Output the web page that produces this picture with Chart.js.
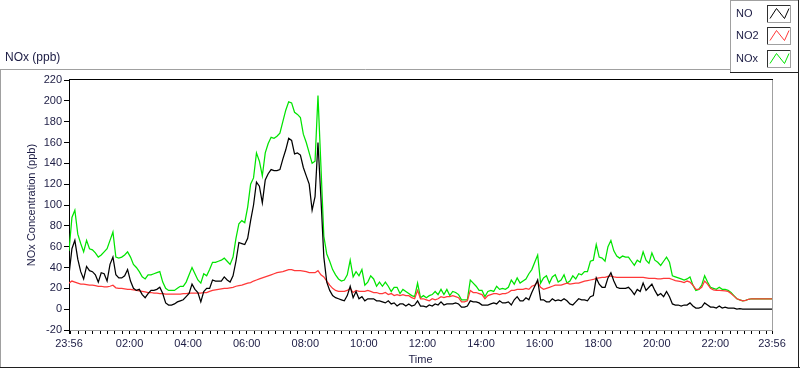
<!DOCTYPE html>
<html lang="en">
<head>
<meta charset="UTF-8">
<title>NOx (ppb)</title>
<script src="https://cdn.jsdelivr.net/npm/chart.js"></script>
<style>
    body { margin: 0; background: #fff; }
    canvas { display: block; }
</style>
</head>
<body>
<canvas id="noxChart" width="800" height="369"></canvas>
<script>
// one reading every 6 minutes, from 23:56 to 23:56 next day
const stepMin = 6;
const dayMin = 1440;
const edgeLabel = '23:56';
const hourLabels = ['02:00', '04:00', '06:00', '08:00', '10:00', '12:00', '14:00', '16:00', '18:00', '20:00', '22:00'];

const no = [
    33, 58, 66, 48, 36, 29, 41, 37, 36, 33,
    26, 35, 34, 27, 43, 50, 33, 30, 30, 32,
    38, 27, 20, 18, 19, 14, 11, 15, 18, 18,
    19, 21, 15, 6, 4, 4, 5, 7, 8, 9,
    12, 15, 24, 19, 16, 7, 17, 20, 20, 28,
    27, 27, 27, 31, 28, 26, 32, 46, 64, 63,
    62, 68, 85, 100, 122, 118, 102, 124, 130, 134,
    133, 133, 134, 144, 153, 164, 162, 149, 150, 148,
    136, 128, 120, 95, 108, 160, 107, 50, 26, 18,
    13, 11, 10, 9, 8, 13, 22, 11, 17, 10,
    12, 8, 10, 10, 10, 8, 8, 7, 6, 8,
    5, 6, 3, 5, 5, 3, 5, 3, 4, 8,
    3, 3, 2, 4, 3, 5, 4, 7, 4, 5,
    5, 5, 6, 5, 2, 2, 3, 8, 7, 7,
    6, 4, 4, 4, 5, 6, 5, 8, 6, 6,
    7, 4, 9, 12, 8, 8, 11, 9, 16, 22,
    28, 9, 9, 7, 7, 10, 8, 9, 8, 10,
    8, 5, 4, 7, 10, 9, 9, 8, 12, 13,
    30, 24, 21, 21, 30, 35, 27, 21, 20, 20,
    20, 21, 18, 14, 19, 17, 25, 18, 21, 24,
    18, 13, 15, 12, 17, 12, 5, 4, 4, 3,
    4, 4, 6, 3, 1, 1, 2, 6, 4, 2,
    2, 1, 3, 1, 2, 1, 1, 1, 0, 0.5,
    0, 0, 0, 0, 0, 0, 0, 0, 0, 0, 0
];

const no2 = [
    25, 27, 26, 25, 24, 24, 23.5, 23, 23, 22.5,
    22, 22, 21.5, 21.5, 22, 23, 20.5, 20, 20, 19.5,
    19, 19, 18.5, 18, 17.5, 17, 16.5, 16, 16, 15.5,
    15.5, 15, 15, 14.5, 14.5, 14.5, 14.5, 14.5, 14.5, 15,
    15, 15.5, 15.5, 15.5, 15.5, 15.5, 16, 16, 17, 18,
    18.5, 19, 19.5, 20, 20, 20.5, 21, 22, 22.5, 23,
    24, 25, 25.5, 27, 28, 29, 30, 31, 32, 33,
    34, 35, 35.5, 36, 37, 38, 38, 37, 37, 37,
    36.5, 36, 35, 35, 35, 37, 33, 31, 27, 23,
    20, 18, 17, 17, 17, 18, 20, 16, 18, 17,
    17, 17, 18, 17, 16, 16, 15, 15, 16, 14,
    15, 13, 14, 13, 14, 13, 13, 11, 10, 18,
    10, 10, 9, 8, 10, 9, 10, 12, 11, 12,
    12, 13, 12, 11, 7, 7, 8, 18, 16, 16,
    15, 14, 10, 13, 14, 15, 15, 14, 15, 15,
    16, 18, 18, 19, 19, 19, 20, 19, 22, 23,
    26, 21, 19, 20, 21, 22, 23, 23, 23, 24,
    25, 24, 24.5, 25, 25, 26, 27, 27.5, 28, 28.5,
    29.5, 30, 30.5, 30.5, 31.5, 32, 31, 30.5, 30.5, 30.5,
    30.5, 30.5, 30.5, 30.5, 30.5, 30.5, 30.5, 30, 29.5, 29.5,
    29.5, 29, 29, 29.5, 29.5, 29.5, 28.5, 27.5, 27, 26.5,
    25.5, 27, 26, 23, 19, 19, 21, 27, 24, 20,
    18.5, 18, 18, 17.8, 17.5, 17, 15, 12.5, 10, 9,
    8, 8.5, 9.5, 10, 10, 10, 10, 10, 10, 10, 10
];

const nox = [
    56, 88, 95, 72, 63, 55, 66, 58, 57, 54,
    50, 52, 55, 58, 66, 74, 50, 49, 50, 52,
    55, 50, 43, 40, 36, 31, 29, 33, 33, 34,
    35, 36, 26, 20, 18, 18, 18, 20, 22, 22,
    26, 33, 40, 34, 28, 25, 34, 32, 38, 45,
    45, 46, 47, 49, 46, 43, 50, 68, 82, 85,
    83, 98, 120, 126, 150, 142, 128, 150, 159, 165,
    164, 166, 169, 180, 191, 199, 198, 189, 187, 184,
    168, 160, 150, 140, 142, 205, 138, 70, 53, 46,
    38, 33, 29, 27, 28, 33, 47, 31, 36, 32,
    38, 23, 26, 32, 29, 22, 26, 22, 26, 22,
    17, 21, 21, 15, 19, 17, 15, 13, 12, 25,
    11, 13, 11, 13, 14, 17, 14, 19, 14, 19,
    13, 17, 16, 14, 9, 9, 9, 28, 25, 22,
    18, 18, 12, 17, 18, 17, 22, 19, 20, 19,
    21, 28, 24, 30, 25, 27, 29, 34, 38, 45,
    52, 25, 30, 32, 25, 31, 33, 26, 28, 33,
    25, 27, 32, 29, 34, 33, 36, 36, 46, 47,
    62, 50, 49, 46, 60, 66, 56, 51, 49, 51,
    50, 50, 46, 42, 47, 45, 55, 47, 44, 54,
    47, 45, 42, 46, 50, 45, 32, 31, 30, 29,
    28, 29, 31, 23, 18, 19, 23, 32, 26, 21,
    20, 19, 21, 19, 19, 18, 16, 13, 10, 9,
    8, 8.5, 9.5, 10, 10, 10, 10, 10, 10, 10, 10
];

const seriesNames = ['NO', 'NO2', 'NOx'];
const seriesColors = ['#000000', '#ff3838', '#00e400'];
const textColor = '#1c1c44';
const fontFamily = '"Liberation Sans", Arial, sans-serif';

// x ticks: start, 00:00, then every 15 min, then end
const xTickVals = [0];
for (let t = 4; t < dayMin; t += 15) xTickVals.push(t);
xTickVals.push(dayMin);

function xLabel(v) {
    if (v === 0 || v === dayMin) return edgeLabel;
    if (v > 4 && (v - 4) % 120 === 0) return hourLabels[(v - 4) / 120 - 1];
    return '';
}

function toPoints(arr) {
    return arr.map((y, i) => ({ x: i * stepMin, y: y }));
}

function hline(ctx, x1, x2, y, color) {
    ctx.strokeStyle = color;
    ctx.beginPath();
    ctx.moveTo(x1, y);
    ctx.lineTo(x2, y);
    ctx.stroke();
}
function vline(ctx, x, y1, y2, color) {
    ctx.strokeStyle = color;
    ctx.beginPath();
    ctx.moveTo(x, y1);
    ctx.lineTo(x, y2);
    ctx.stroke();
}

// frames, legend and the "NOx (ppb)" caption
const framePlugin = {
    id: 'frame',
    afterDraw(chart) {
        const ctx = chart.ctx;
        const a = chart.chartArea;
        ctx.save();
        ctx.lineWidth = 1;

        // plot box: top black, right grey
        hline(ctx, a.left, a.right + 1, Math.round(a.top) - 0.5, '#000');
        vline(ctx, Math.round(a.right) + 0.5, a.top, a.bottom + 1, '#a0a0a0');

        // outer frame
        hline(ctx, 0, 731, 69.5, '#a0a0a0');
        vline(ctx, 0.5, 69, 368, '#a0a0a0');
        hline(ctx, 0, 800, 367.5, '#202020');
        vline(ctx, 798.5, 72, 368, '#202020');

        // legend box
        hline(ctx, 730, 799, 0.5, '#a0a0a0');
        vline(ctx, 730.5, 0, 73, '#a0a0a0');
        hline(ctx, 730, 799, 72.5, '#202020');
        vline(ctx, 798.5, 0, 73, '#202020');

        ctx.font = '11px ' + fontFamily;
        ctx.fillStyle = textColor;
        ctx.textBaseline = 'middle';
        ctx.textAlign = 'left';
        const rowTop = [5, 27, 50];
        seriesNames.forEach((name, k) => {
            const y0 = rowTop[k];
            ctx.fillStyle = textColor;
            ctx.fillText(name, 736, y0 + 9);
            // swatch
            hline(ctx, 767, 791, y0 + 0.5, '#303030');
            vline(ctx, 767.5, y0, y0 + 18, '#303030');
            hline(ctx, 767, 791, y0 + 17.5, '#a0a0a0');
            vline(ctx, 790.5, y0, y0 + 18, '#a0a0a0');
            ctx.strokeStyle = seriesColors[k];
            ctx.beginPath();
            ctx.moveTo(770, y0 + 13.5);
            ctx.lineTo(776.5, y0 + 3.5);
            ctx.lineTo(784.5, y0 + 13.5);
            ctx.lineTo(789, y0 + 3.5);
            ctx.stroke();
        });

        ctx.font = '12px ' + fontFamily;
        ctx.fillStyle = textColor;
        ctx.fillText('NOx (ppb)', 5, 58);
        ctx.restore();
    }
};

const ctx = document.getElementById('noxChart').getContext('2d');
new Chart(ctx, {
    type: 'line',
    data: {
        datasets: [
            { label: seriesNames[0], data: toPoints(no), borderColor: seriesColors[0] },
            { label: seriesNames[1], data: toPoints(no2), borderColor: seriesColors[1] },
            { label: seriesNames[2], data: toPoints(nox), borderColor: seriesColors[2] }
        ]
    },
    options: {
        responsive: false,
        animation: false,
        layout: { padding: { top: 80, right: 28, left: 0, bottom: 0 } },
        elements: {
            line: { borderWidth: 1.25, tension: 0, fill: false },
            point: { radius: 0, hoverRadius: 0 }
        },
        plugins: {
            legend: { display: false },
            tooltip: { enabled: false }
        },
        scales: {
            x: {
                type: 'linear',
                min: 0,
                max: dayMin,
                afterFit: s => { s.height = 39; },
                afterBuildTicks: s => { s.ticks = xTickVals.map(v => ({ value: v })); },
                grid: { drawOnChartArea: false, tickLength: 4, color: '#000' },
                border: { color: '#a0a0a0' },
                ticks: {
                    autoSkip: false,
                    maxRotation: 0,
                    minRotation: 0,
                    padding: 3,
                    color: textColor,
                    font: { family: fontFamily, size: 11 },
                    callback: v => xLabel(v)
                },
                title: {
                    display: true,
                    text: 'Time',
                    color: textColor,
                    font: { family: fontFamily, size: 11 },
                    padding: { top: 0, bottom: 2 }
                }
            },
            y: {
                min: -20,
                max: 220,
                afterFit: s => { s.width = 69; },
                grid: { drawOnChartArea: false, tickLength: 5, color: '#000' },
                border: { color: '#000' },
                ticks: {
                    stepSize: 20,
                    padding: 2,
                    color: textColor,
                    font: { family: fontFamily, size: 11 }
                },
                title: {
                    display: true,
                    text: 'NOx Concentration (ppb)',
                    color: textColor,
                    font: { family: fontFamily, size: 11 },
                    padding: { top: 25, bottom: 0 }
                }
            }
        }
    },
    plugins: [framePlugin]
});
</script>
</body>
</html>
